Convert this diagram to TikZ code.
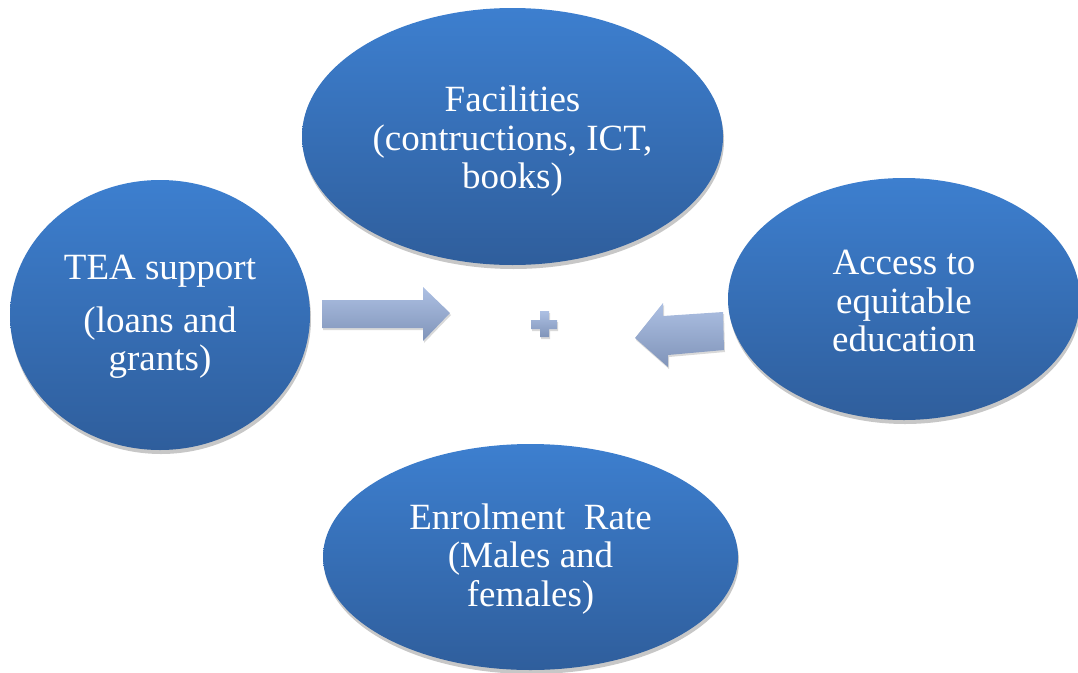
\documentclass[tikz,border=0pt]{standalone}
\usepackage{fontspec}
\setmainfont{Liberation Serif}
\usetikzlibrary{shapes.geometric,shadows}
\definecolor{elltop}{HTML}{3D7FCF}
\definecolor{ellbot}{HTML}{2F5E9C}
\definecolor{arrtop}{HTML}{ADC0E3}
\definecolor{arrbot}{HTML}{8094B9}
\tikzset{
  bubble/.style={ellipse, inner sep=0pt, top color=elltop, bottom color=ellbot, draw=none,
    drop shadow={shadow xshift=1pt, shadow yshift=-4pt, opacity=0.22, fill=black}},
  btext/.style={text=white, align=center, font=\fontsize{37}{38.5}\selectfont, inner sep=0pt},
  blockarrow/.style={top color=arrtop, bottom color=arrbot, draw=none,
    drop shadow={shadow xshift=1pt, shadow yshift=-2pt, opacity=0.15, fill=black}}
}
\begin{document}
\begin{tikzpicture}[x=1pt,y=-1pt]
\useasboundingbox (0,0) rectangle (1078,672);
% ellipses
\node[bubble, minimum width=421pt, minimum height=257pt] (fac) at (512.5,136.5) {};
\node[bubble, minimum width=300pt, minimum height=270pt] (tea) at (160,315) {};
\node[bubble, minimum width=352pt, minimum height=242pt] (acc) at (904,299) {};
\node[bubble, minimum width=415pt, minimum height=226pt] (enr) at (530.5,557) {};
% texts
\node[btext] (factext) at ([yshift=-5pt]fac.center) {Facilities\\(contructions, ICT,\\books)};
\node[btext] (teatext) at ([yshift=-2pt]tea.center) {TEA support\\[14pt](loans and\\grants)};
\node[btext] (acctext) at ([yshift=-2pt]acc.center) {Access to\\equitable\\education};
\node[btext] (enrtext) at ([yshift=-2pt]enr.center) {Enrolment\ \ Rate\\(Males and\\females)};
% block arrows
\path[blockarrow] (322,300) -- (423,300) -- (423,287) -- (450,313) -- (423,341) -- (423,328) -- (322,328) -- cycle;
\path[blockarrow] (723,312) -- (663,316) -- (663,303) -- (635,338) -- (668,367) -- (668,355) -- (724,350) -- cycle;
% plus
\path[blockarrow] (540,311) -- (549,311) -- (549,320) -- (557,320) -- (557,329) -- (549,329) -- (549,337) -- (540,337) -- (540,329) -- (531,329) -- (531,320) -- (540,320) -- cycle;
\end{tikzpicture}
\end{document}
